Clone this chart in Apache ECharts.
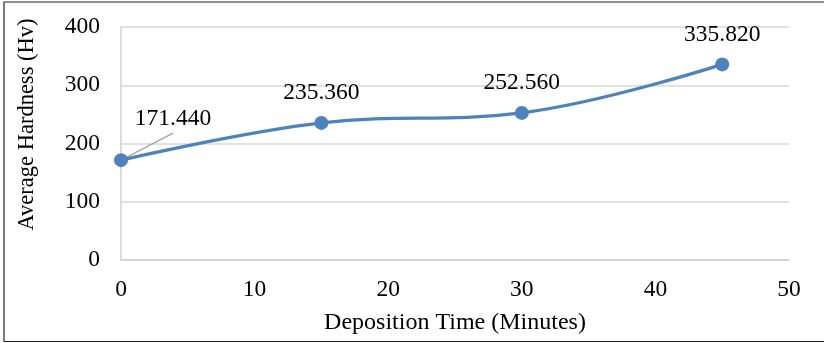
<!DOCTYPE html>
<html>
<head>
<meta charset="utf-8">
<script src="https://cdn.jsdelivr.net/npm/echarts@6/dist/echarts.min.js"></script>
<style>html,body{margin:0;padding:0;background:#fff}#c{width:824px;height:343px}</style>
</head>
<body>
<div id="c"></div>
<script>
var times = [0, 15, 30, 45];
var hardness = [171.44, 235.36, 252.56, 335.82];
var xTicks = [0, 10, 20, 30, 40, 50];
var yTicks = [0, 100, 200, 300, 400];
var xTitle = 'Deposition Time (Minutes)';
var yTitle = 'Average Hardness (Hv)';

var font = '"Liberation Serif", "Times New Roman", serif';
var fs = 23.5;
var fsName = 24;
var chart = echarts.init(document.getElementById('c'));
var data = times.map(function (t, i) { return [t, hardness[i]]; });
chart.setOption({
  animation: false,
  grid: { left: 121, right: 35, top: 27, bottom: 83, outerBoundsMode: 'none', containLabel: false },
  xAxis: {
    type: 'value', min: xTicks[0], max: xTicks[xTicks.length - 1], interval: 10,
    name: xTitle, nameLocation: 'middle', nameGap: 51,
    nameTextStyle: { fontFamily: font, fontSize: fsName, color: '#000' },
    axisLine: { show: true, lineStyle: { color: '#d0d0d0', width: 1.5 } },
    axisTick: { show: false },
    splitLine: { show: false },
    axisLabel: { fontFamily: font, fontSize: fs, color: '#000', margin: 18 }
  },
  yAxis: {
    type: 'value', min: yTicks[0], max: yTicks[yTicks.length - 1], interval: 100,
    name: yTitle, nameLocation: 'middle', nameGap: 82, nameRotate: 90,
    nameTextStyle: { fontFamily: font, fontSize: 22.5, color: '#000', padding: [0, 0, 0, 38] },
    axisLine: { show: true, lineStyle: { color: '#d0d0d0', width: 1.5 } },
    axisTick: { show: false },
    splitLine: { show: true, lineStyle: { color: '#d9d9d9', width: 1.5 } },
    axisLabel: { fontFamily: font, fontSize: fs, color: '#000', margin: 21 }
  },
  series: [{
    type: 'line', smooth: 0.4, data: data, z: 3,
    symbol: 'circle', symbolSize: 14,
    itemStyle: { color: '#4f81bd' },
    lineStyle: { color: '#4f81bd', width: 3.2 },
    label: {
      show: true, position: 'top', distance: 11,
      fontFamily: font, fontSize: fs, color: '#000',
      formatter: function (p) { return p.value[1].toFixed(3); }
    },
    labelLayout: function (p) {
      if (p.dataIndex === 0) {
        return { dx: 52, dy: -11 };
      }
      return {};
    }
  }]
});
// leader line for the first label, anchored at the data point via the axis scales
var p0 = chart.convertToPixel({ seriesIndex: 0 }, data[0]);
chart.setOption({
  graphic: [{
    type: 'rect', shape: { x: 4, y: 2, width: 840, height: 339.5 },
    style: { fill: 'none', stroke: '#222', lineWidth: 1.2 }, silent: true
  }, {
    type: 'line', z: 2, silent: true,
    shape: { x1: p0[0], y1: p0[1], x2: p0[0] + 52, y2: p0[1] - 27 },
    style: { stroke: '#a6a6a6', lineWidth: 1.5 }
  }]
});
</script>
</body>
</html>
